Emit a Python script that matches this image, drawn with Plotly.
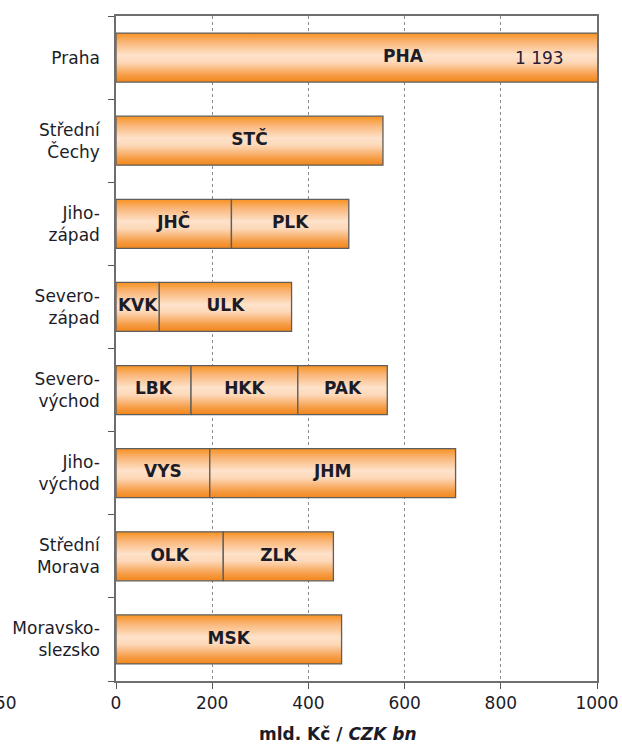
import plotly.graph_objects as go

# Regions (NUTS 2), top to bottom, with the kraje (NUTS 3) that make them up
regions = [
    "Praha",
    "Střední<br>Čechy",
    "Jiho-<br>západ",
    "Severo-<br>západ",
    "Severo-<br>východ",
    "Jiho-<br>východ",
    "Střední<br>Morava",
    "Moravsko-<br>slezsko",
]
kraj_codes = [
    ["PHA"],
    ["STČ"],
    ["JHČ", "PLK"],
    ["KVK", "ULK"],
    ["LBK", "HKK", "PAK"],
    ["VYS", "JHM"],
    ["OLK", "ZLK"],
    ["MSK"],
]
# mld. Kč
kraj_values = [
    [1193],
    [555],
    [240, 244],
    [90, 275],
    [156, 222, 186],
    [195, 511],
    [223, 229],
    [469],
]
x_ticks = [0, 200, 400, 600, 800, 1000]
praha_total_label = "1 193"

FONT = "DejaVu Sans"
TEXT = "#1c1c28"
EDGE = "#5e5e5e"
BAR_HALF = 0.295
# vertical orange sheen: darker edges, pale band just above the middle
SHEEN = [
    [0.0, "#F1871A"],
    [0.14, "#F69C45"],
    [0.40, "#FDD8B8"],
    [0.55, "#FEE2CA"],
    [0.82, "#FAB576"],
    [1.0, "#F7921F"],
]

n = len(regions)
ypos = [n - 1 - i for i in range(n)]

fig = go.Figure()

lab_x, lab_y, lab_t = [], [], []
for y, codes, vals in zip(ypos, kraj_codes, kraj_values):
    left = 0
    for code, v in zip(codes, vals):
        right = left + v
        fig.add_trace(go.Scatter(
            x=[left, right, right, left, left],
            y=[y - BAR_HALF, y - BAR_HALF, y + BAR_HALF, y + BAR_HALF, y - BAR_HALF],
            mode="lines",
            fill="toself",
            fillgradient=dict(type="vertical", colorscale=SHEEN),
            line=dict(color=EDGE, width=1.3),
            hoverinfo="skip",
            showlegend=False,
        ))
        lab_x.append((left + right) / 2)
        lab_y.append(y)
        lab_t.append(code)
        left = right

fig.add_trace(go.Scatter(
    x=lab_x, y=lab_y, text=lab_t, mode="text",
    textfont=dict(family=FONT, size=17, color=TEXT, weight="bold"),
    textposition="middle center",
    hoverinfo="skip", showlegend=False, cliponaxis=False,
))

# total for Praha, whose bar runs past the end of the scale
fig.add_annotation(
    x=880, y=ypos[0], xref="x", yref="y",
    text=praha_total_label, showarrow=False,
    font=dict(family=FONT, size=17, color="#2a1c38"),
)

fig.update_xaxes(
    range=[0, 1000], automargin=False,
    tickmode="array", tickvals=x_ticks, ticktext=[str(t) for t in x_ticks],
    ticks="outside", ticklen=6, tickwidth=1.3, tickcolor="#555555",
    tickfont=dict(family=FONT, size=17, color=TEXT),
    showline=True, mirror=True, linecolor="#6e6e6e", linewidth=1.5,
    showgrid=True, gridcolor="#8a8a8a", gridwidth=1, griddash="dot",
    zeroline=False, fixedrange=True,
)
fig.update_yaxes(
    range=[-0.5, n - 0.5], automargin=False,
    tickmode="array", tickvals=ypos, ticktext=regions,
    ticks="", ticklabelstandoff=11,
    tickfont=dict(family=FONT, size=17, color=TEXT),
    minor=dict(tickmode="array", tickvals=[k - 0.5 for k in range(n + 1)],
               ticks="outside", ticklen=6, tickwidth=1.3, tickcolor="#555555",
               showgrid=False),
    showline=True, mirror=True, linecolor="#6e6e6e", linewidth=1.5,
    showgrid=False, zeroline=False, fixedrange=True,
)

fig.add_annotation(
    x=0.4615, y=-0.080, xref="paper", yref="paper",
    xanchor="center", yanchor="middle",
    text="<b>mld. Kč / <i>CZK bn</i></b>", showarrow=False,
    font=dict(family=FONT, size=17, color=TEXT),
)
fig.add_annotation(
    x=-0.2017, y=-0.033, xref="paper", yref="paper",
    xanchor="right", yanchor="middle",
    text="50", showarrow=False,
    font=dict(family=FONT, size=17, color=TEXT),
)

fig.update_layout(
    width=622, height=744,
    margin=dict(l=116, r=25, t=16, b=63),
    paper_bgcolor="white", plot_bgcolor="white",
    showlegend=False,
)

fig.write_html("out.html")
